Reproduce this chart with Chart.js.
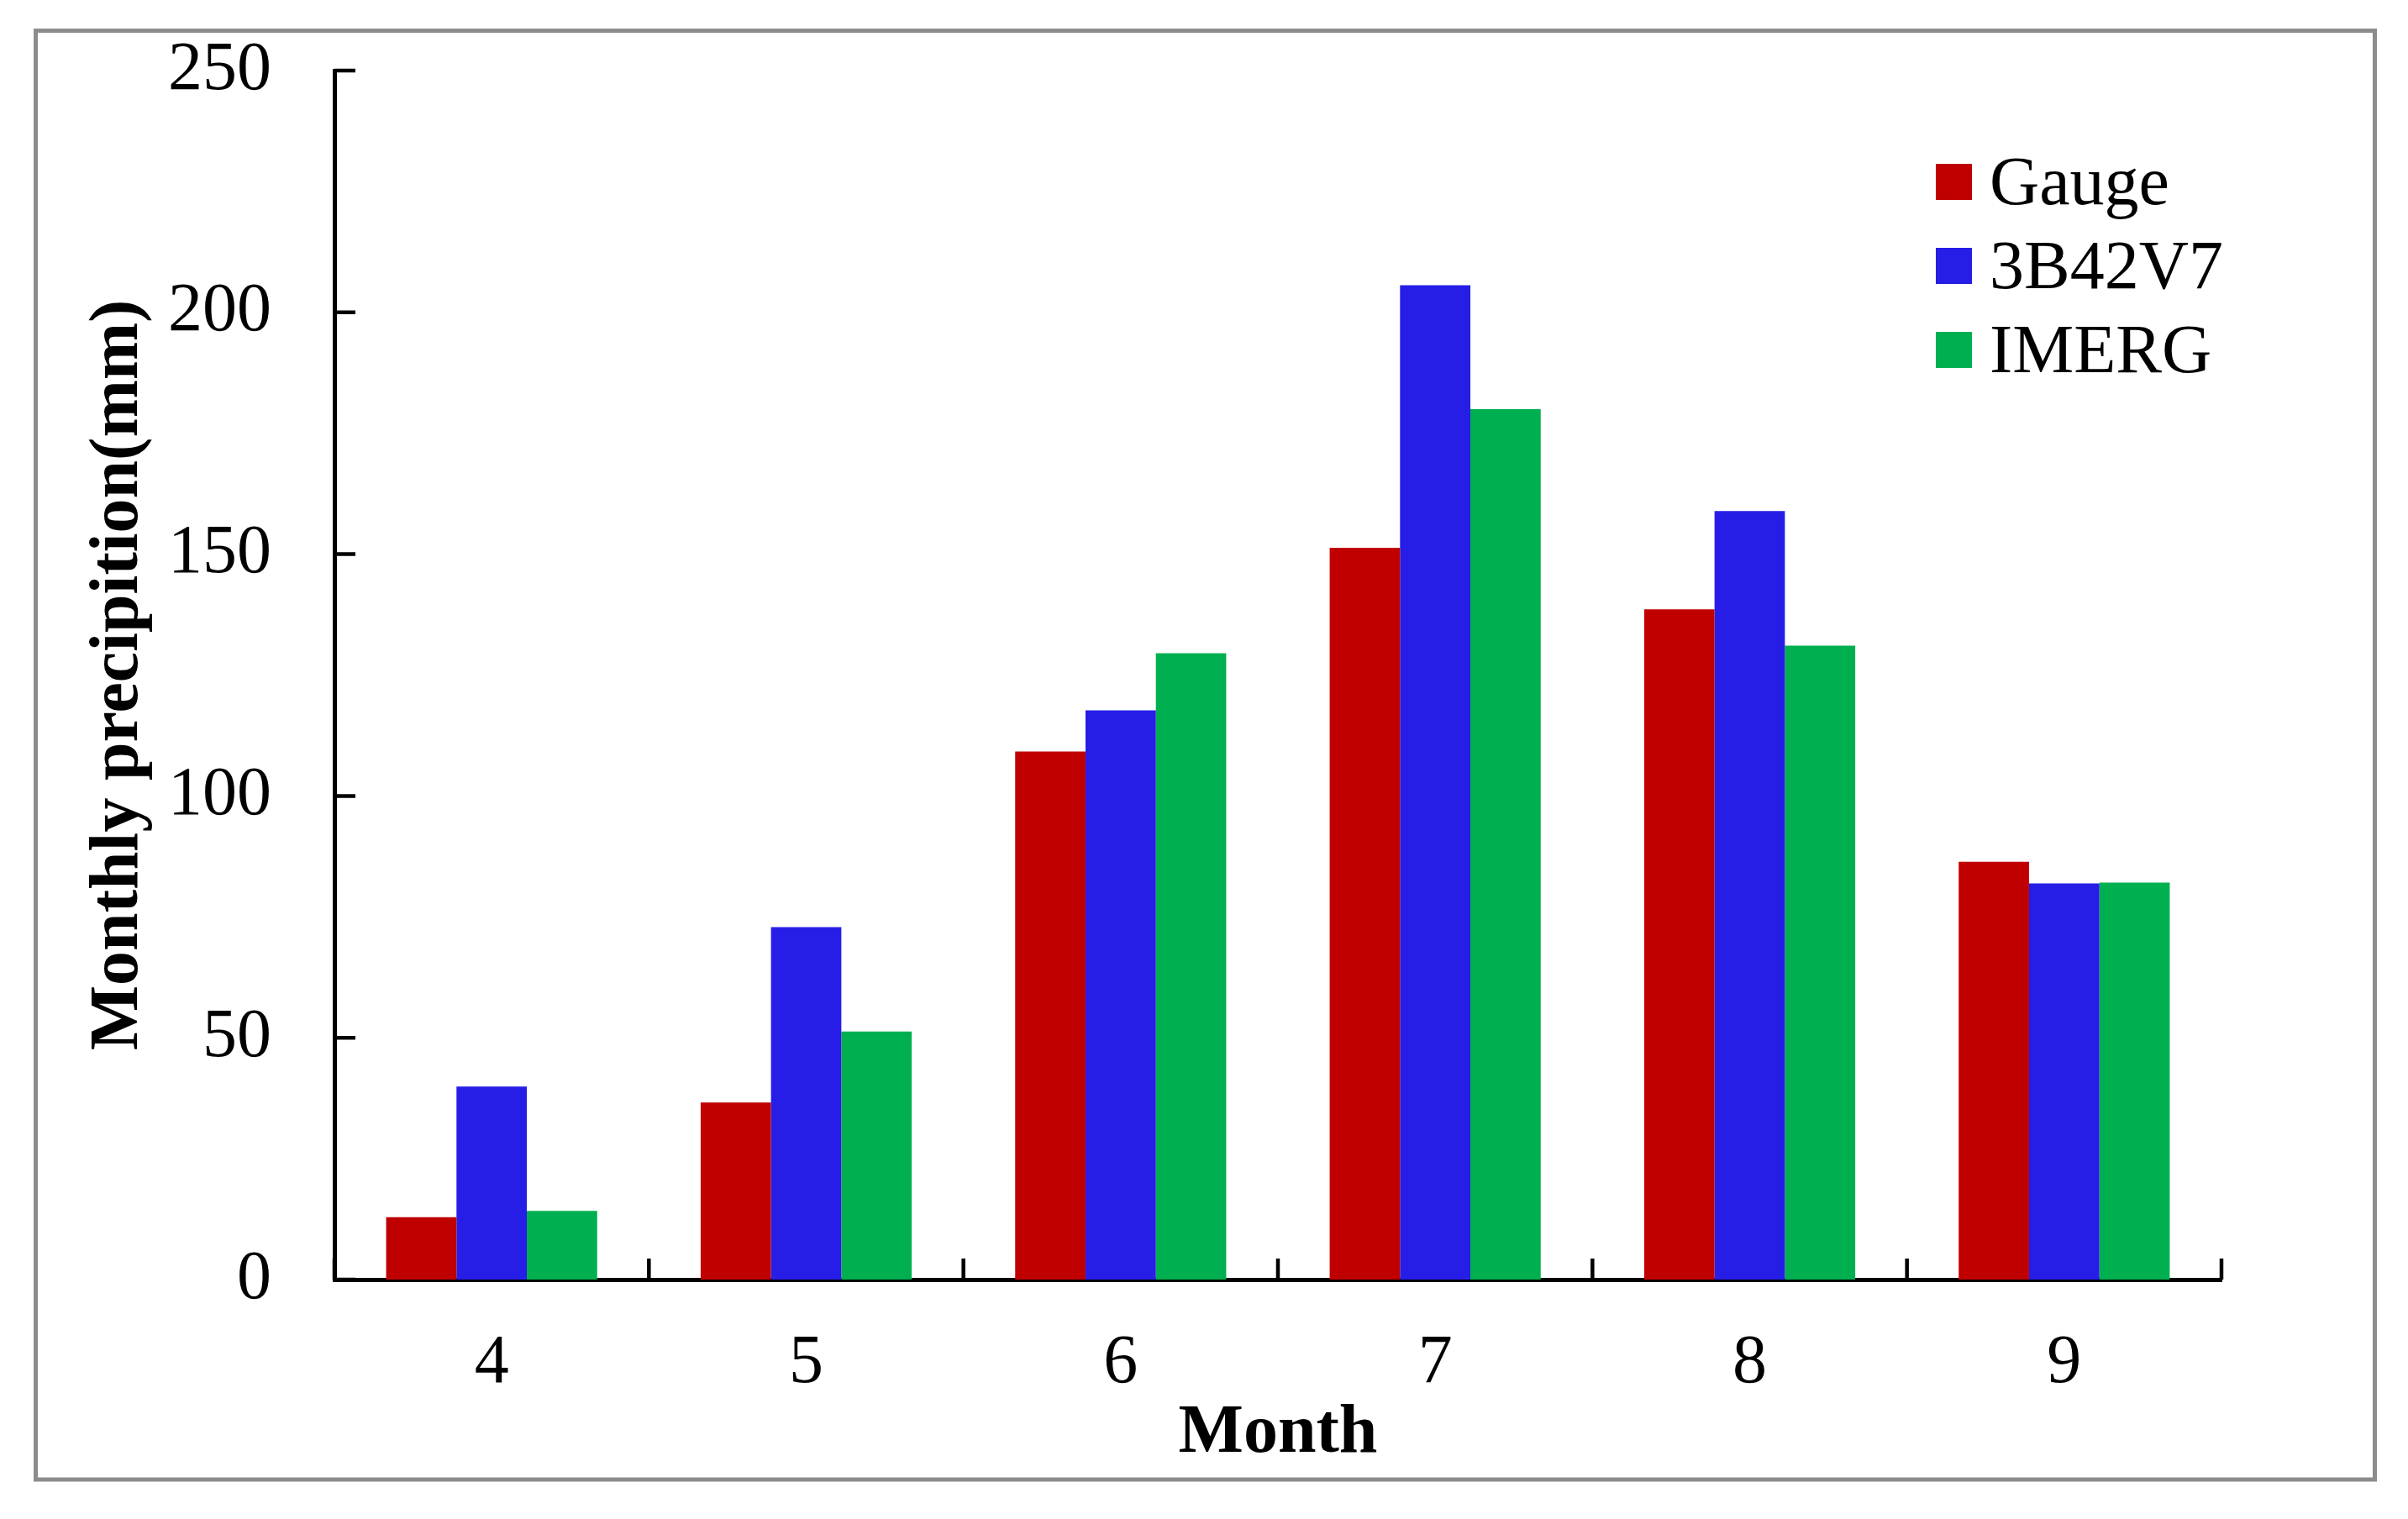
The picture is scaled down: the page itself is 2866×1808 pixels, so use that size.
<!DOCTYPE html>
<html>
<head>
<meta charset="utf-8">
<title>Monthly precipitation</title>
<script src="https://cdn.jsdelivr.net/npm/chart.js@4/dist/chart.umd.min.js"></script>
<style>
    html, body { margin: 0; padding: 0; background: #ffffff; }
    canvas { display: block; }
</style>
</head>
<body>
<canvas id="precipChart" width="2866" height="1808"></canvas>
<script>
// data (mm)
const months = ['4', '5', '6', '7', '8', '9'];
const gauge = [12.9, 36.6, 109.2, 151.3, 138.6, 86.4];
const trmm3B42V7 = [39.9, 72.9, 117.7, 205.6, 158.9, 81.9];
const imerg = [14.2, 51.3, 129.5, 180.0, 131.1, 82.1];

const seriesNames = ['Gauge', '3B42V7', 'IMERG'];
const seriesColors = ['#C00000', '#261EE6', '#00B050'];

const yMin = 0;
const yMax = 250;
const yStep = 50;

const FONT = "'Liberation Serif', 'Times New Roman', serif";

// white page with the grey frame round it
const frame = {
    id: 'frame',
    beforeDraw(chart) {
        const ctx = chart.ctx;
        ctx.save();
        ctx.fillStyle = '#ffffff';
        ctx.fillRect(0, 0, chart.width, chart.height);
        ctx.strokeStyle = '#8c8c8c';
        ctx.lineWidth = 5;
        ctx.strokeRect(42.5, 36.5, 2784, 1724.5);
        ctx.restore();
    }
};

// tick marks point into the plot, like the original
const innerTicks = {
    id: 'innerTicks',
    afterDraw(chart) {
        const ctx = chart.ctx;
        const x = chart.scales.x;
        const y = chart.scales.y;
        const area = chart.chartArea;
        ctx.save();
        ctx.strokeStyle = '#000000';
        ctx.lineWidth = 4.5;
        ctx.beginPath();
        y.ticks.forEach(t => {
            const py = y.getPixelForValue(t.value);
            ctx.moveTo(area.left, py);
            ctx.lineTo(area.left + 25, py);
        });
        for (let i = 0; i <= months.length; i++) {
            const px = x.getPixelForValue(i - 0.5);
            ctx.moveTo(px, area.bottom);
            ctx.lineTo(px, area.bottom - 25);
        }
        ctx.stroke();
        ctx.restore();
    }
};

// legend stacked top right inside the plot
const boxLegend = {
    id: 'boxLegend',
    afterDraw(chart) {
        const ctx = chart.ctx;
        const area = chart.chartArea;
        const left = area.right - 340;
        const top = area.top + 111;
        ctx.save();
        ctx.font = '82px ' + FONT;
        ctx.textAlign = 'left';
        ctx.textBaseline = 'alphabetic';
        chart.data.datasets.forEach((ds, i) => {
            const by = top + i * 100;
            ctx.fillStyle = ds.backgroundColor;
            ctx.fillRect(left, by, 43, 43);
            ctx.fillStyle = '#000000';
            ctx.fillText(ds.label, left + 64, by + 48);
        });
        ctx.restore();
    }
};

const seriesData = [gauge, trmm3B42V7, imerg];

new Chart(document.getElementById('precipChart'), {
    type: 'bar',
    data: {
        labels: months,
        datasets: seriesNames.map((name, i) => ({
            label: name,
            data: seriesData[i],
            backgroundColor: seriesColors[i],
            borderWidth: 0,
            categoryPercentage: 0.671,
            barPercentage: 1.0
        }))
    },
    options: {
        responsive: false,
        animation: false,
        devicePixelRatio: 1,
        layout: {
            padding: { left: 0, top: 84, right: 222, bottom: 0 }
        },
        plugins: {
            legend: { display: false },
            tooltip: { enabled: false }
        },
        scales: {
            x: {
                type: 'category',
                offset: true,
                grid: { display: false, drawTicks: false },
                border: { display: true, color: '#000000', width: 5 },
                ticks: {
                    color: '#000000',
                    padding: 51,
                    maxRotation: 0,
                    font: { family: FONT, size: 82, lineHeight: 1.2 }
                },
                title: {
                    display: true,
                    text: 'Month',
                    color: '#000000',
                    padding: { top: 0, bottom: 52 },
                    font: { family: FONT, size: 82, weight: 'bold', lineHeight: 1.2 }
                },
                afterFit: (scale) => { scale.height = 285; }
            },
            y: {
                min: yMin,
                max: yMax,
                grid: { display: false, drawTicks: false },
                border: { display: true, color: '#000000', width: 5 },
                ticks: {
                    stepSize: yStep,
                    color: '#000000',
                    padding: 75,
                    font: { family: FONT, size: 82, lineHeight: 1.2 }
                },
                title: {
                    display: true,
                    text: 'Monthly precipition(mm)',
                    color: '#000000',
                    padding: { top: 93, bottom: 0 },
                    font: { family: FONT, size: 82, weight: 'bold', lineHeight: 1.2 }
                },
                afterFit: (scale) => {
                    scale.width = 398;
                    // the layout padding already leaves room for the top label
                    scale.paddingTop = 0;
                    scale.paddingBottom = 0;
                }
            }
        }
    },
    plugins: [frame, innerTicks, boxLegend]
});
</script>
</body>
</html>
